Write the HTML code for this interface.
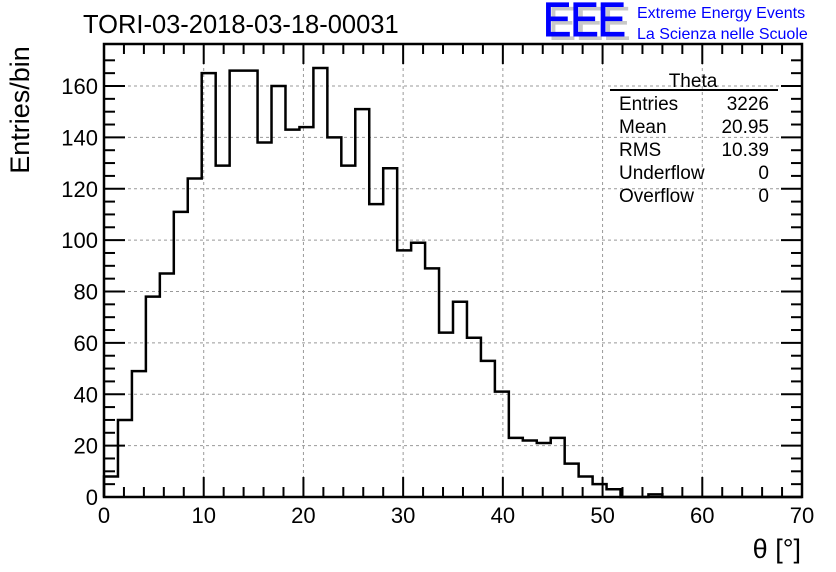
<!DOCTYPE html>
<html><head><meta charset="utf-8"><style>
body{margin:0;background:#fff}
svg{display:block;font-family:"Liberation Sans",Arial,sans-serif}
</style></head><body>
<svg id="chart" width="836" height="572" viewBox="0 0 836 572">
<rect width="836" height="572" fill="#fff"/>
<g id="grid"></g>
<g id="hist"></g>
<g id="axes"></g>
<text x="83" y="33" font-size="25.5">TORI-03-2018-03-18-00031</text>
<text transform="translate(29,110) rotate(-90)" text-anchor="middle" font-size="27">Entries/bin</text>
<text x="801" y="558" text-anchor="end" font-size="27">θ [°]</text>
<g>
<text x="548" y="40" font-size="48" fill="#c8c8c8" letter-spacing="-1" textLength="82" lengthAdjust="spacingAndGlyphs">EEE</text>
<text x="543" y="36" font-size="48" fill="#0000ff" stroke="#0000ff" stroke-width="1" letter-spacing="-1" textLength="82" lengthAdjust="spacingAndGlyphs">EEE</text>
<text x="637" y="18" font-size="16" fill="#0000ff">Extreme Energy Events</text>
<text x="637" y="39" font-size="16" fill="#0000ff">La Scienza nelle Scuole</text>
</g>
<g font-size="19">
<text x="693" y="87" text-anchor="middle">Theta</text>
<line x1="610" y1="90" x2="778" y2="90" stroke="#000" stroke-width="2"/>
<text x="619" y="110">Entries</text><text x="769" y="110" text-anchor="end">3226</text>
<text x="619" y="133">Mean</text><text x="769" y="133" text-anchor="end">20.95</text>
<text x="619" y="156">RMS</text><text x="769" y="156" text-anchor="end">10.39</text>
<text x="619" y="179">Underflow</text><text x="769" y="179" text-anchor="end">0</text>
<text x="619" y="202">Overflow</text><text x="769" y="202" text-anchor="end">0</text>
</g>
</svg>
<script>
const binCounts=[8,30,49,78,87,111,124,165,129,166,166,138,160,143,144,167,140,129,151,114,128,96,99,89,64,76,62,53,41,23,22,21,23,13,8,5,3,0,0,1,0,0,0,0,0,0,0,0,0,0];
const xTickLabels=[0,10,20,30,40,50,60,70];
const yTickLabels=[0,20,40,60,80,100,120,140,160];
const binWidth=1.4;
const L=104,R=802,T=44,B=497;
const X=v=>L+(v/70)*(R-L);
const Y=v=>B-(v/160)*(B-86);
const NS="http://www.w3.org/2000/svg";
function mk(p,tag,at){const e=document.createElementNS(NS,tag);for(const k in at)e.setAttribute(k,at[k]);p.appendChild(e);return e;}
const grid=document.getElementById('grid'),axes=document.getElementById('axes'),hist=document.getElementById('hist');
xTickLabels.forEach(v=>{if(v>0&&v<70){const l=mk(grid,'line',{x1:X(v),x2:X(v),y1:T,y2:B,stroke:'#999','stroke-dasharray':'3,3'});

}});
yTickLabels.forEach(v=>{if(v>0){const l=mk(grid,'line',{x1:L,x2:R,y1:Y(v),y2:Y(v),stroke:'#999','stroke-dasharray':'3,3'});

}});
let d='M'+X(0)+','+B;
binCounts.forEach((c,i)=>{d+=' L'+X(i*binWidth)+','+Y(c)+' L'+X((i+1)*binWidth)+','+Y(c);});
d+=' L'+X(binCounts.length*binWidth)+','+B;
const p=mk(hist,'path',{d:d,fill:'none',stroke:'#000','stroke-width':2.5});


const fr=mk(axes,'rect',{x:L,y:T,width:R-L,height:B-T,fill:'none',stroke:'#000','stroke-width':2.5});


for(let v=0;v<=70;v+=2){const len=v%10===0?20:10;
mk(axes,'line',{x1:X(v),x2:X(v),y1:B,y2:B-len,stroke:'#000','stroke-width':2});
mk(axes,'line',{x1:X(v),x2:X(v),y1:T,y2:T+len,stroke:'#000','stroke-width':2});}
for(let v=0;v<=170;v+=5){const len=v%20===0?21:11;const y=Y(v);if(y<T)continue;
mk(axes,'line',{x1:L,x2:L+len,y1:y,y2:y,stroke:'#000','stroke-width':2});
mk(axes,'line',{x1:R,x2:R-len,y1:y,y2:y,stroke:'#000','stroke-width':2});}
xTickLabels.forEach(v=>{const t=mk(axes,'text',{x:X(v),y:523,'text-anchor':'middle','font-size':22});t.textContent=v;

});
yTickLabels.forEach(v=>{const t=mk(axes,'text',{x:98,y:Y(v)+8,'text-anchor':'end','font-size':22});t.textContent=v;

});
</script>
</body></html>
